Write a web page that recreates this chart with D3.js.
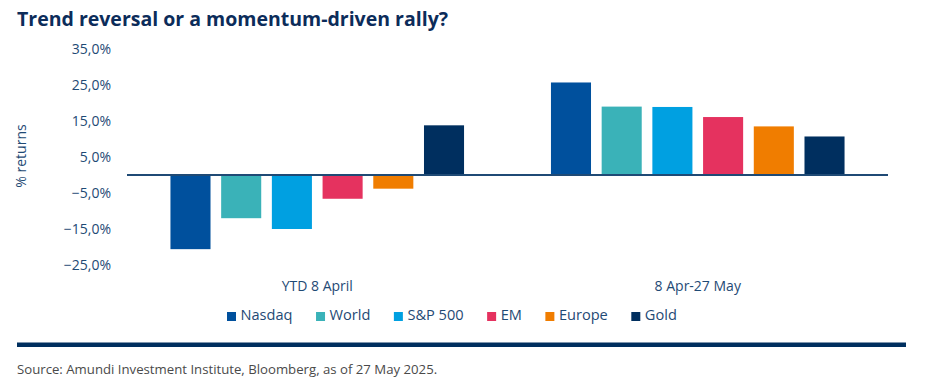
<!DOCTYPE html>
<html>
<head>
<meta charset="utf-8">
<script src="https://cdn.jsdelivr.net/npm/d3@7"></script>
<style>
  html, body { margin: 0; padding: 0; background: #fff; }
  svg { display: block; font-family: "Open Sans", "Noto Sans", sans-serif; }
</style>
</head>
<body>
<svg id="chart" width="927" height="377"></svg>
<script>
const periods = ["YTD 8 April", "8 Apr-27 May"];
const seriesNames = ["Nasdaq", "World", "S&P 500", "EM", "Europe", "Gold"];
const ytdValues = [-20.6, -12.0, -15.0, -6.6, -3.8, 13.8];
const rallyValues = [25.7, 19.0, 18.9, 16.1, 13.5, 10.7];
const seriesColors = ["#00509D", "#3AB2B8", "#00A0E1", "#E5325F", "#F07D00", "#002F5F"];
const yTicks = [35, 25, 15, 5, -5, -15, -25];

const valuesByPeriod = [ytdValues, rallyValues];

const svg = d3.select("#chart");
const plot = { left: 127, right: 888 };

const y = d3.scaleLinear().domain([-25, 35]).range([265, 49]);
const x0 = d3.scaleBand().domain(periods).range([plot.left, plot.right]).padding(0);
const x1 = d3.scaleBand().domain(seriesNames).range([0, x0.bandwidth()])
  .paddingInner(0.21).paddingOuter(0.857);
const color = d3.scaleOrdinal().domain(seriesNames).range(seriesColors);

// Title
svg.append("text")
  .attr("x", 17).attr("y", 26)
  .attr("font-size", 19.5).attr("font-weight", 700)
  .attr("fill", "#0C2C5A")
  .text("Trend reversal or a momentum-driven rally?");

// Y axis tick labels
const fmt = v => d3.format(".1f")(v).replace(".", ",") + "%";
const yAxis = d3.axisLeft(y).tickValues(yTicks).tickFormat(fmt).tickSize(0).tickPadding(0);
const yg = svg.append("g").attr("transform", "translate(111,0)").call(yAxis);
yg.select(".domain").remove();
yg.selectAll("text")
  .attr("font-size", 14).attr("fill", "#1F4A75")
  .attr("font-family", "'Open Sans', 'Noto Sans', sans-serif");

// Y axis title
svg.append("text")
  .attr("transform", "translate(22,156) rotate(-90)")
  .attr("text-anchor", "middle").attr("dominant-baseline", "middle")
  .attr("font-size", 14).attr("fill", "#1F4A75")
  .text("% returns");

// Bars
const groups = svg.append("g").selectAll("g")
  .data(periods)
  .join("g")
  .attr("transform", d => `translate(${x0(d)},0)`);

groups.selectAll("rect")
  .data((p, i) => seriesNames.map((s, j) => ({ s, v: valuesByPeriod[i][j] })))
  .join("rect")
  .attr("x", d => x1(d.s))
  .attr("width", x1.bandwidth())
  .attr("y", d => y(Math.max(0, d.v)))
  .attr("height", d => Math.abs(y(d.v) - y(0)))
  .attr("fill", d => color(d.s));

// Zero line
svg.append("line")
  .attr("x1", plot.left).attr("x2", plot.right)
  .attr("y1", y(0)).attr("y2", y(0))
  .attr("stroke", "#1F4A75").attr("stroke-width", 2);

// Category labels
svg.append("g").selectAll("text")
  .data(periods)
  .join("text")
  .attr("x", d => x0(d) + x0.bandwidth() / 2)
  .attr("y", 287)
  .attr("text-anchor", "middle").attr("dominant-baseline", "middle")
  .attr("font-size", 14).attr("fill", "#1F4A75")
  .text(d => d);

// Legend
const legend = svg.append("g").attr("transform", "translate(227,316.5)");
let lx = 0;
seriesNames.forEach((s, i) => {
  const g = legend.append("g").attr("transform", `translate(${lx},0)`);
  g.append("rect").attr("x", 0).attr("y", -4.5).attr("width", 9).attr("height", 9).attr("fill", color(s));
  const t = g.append("text").attr("x", 13.5).attr("y", 0)
    .attr("dominant-baseline", "middle")
    .attr("font-size", 14.6).attr("fill", "#1F4A75").text(s);
  lx += 13.5 + t.node().getComputedTextLength() + 23.5;
});

// Footer rule
svg.append("line")
  .attr("x1", 17).attr("x2", 906).attr("y1", 344.7).attr("y2", 344.7)
  .attr("stroke", "#002F5F").attr("stroke-width", 4.5);

// Source
svg.append("text")
  .attr("x", 17).attr("y", 374)
  .attr("font-size", 13.2).attr("fill", "#4A4A4A")
  .text("Source: Amundi Investment Institute, Bloomberg, as of 27 May 2025.");
</script>
</body>
</html>
